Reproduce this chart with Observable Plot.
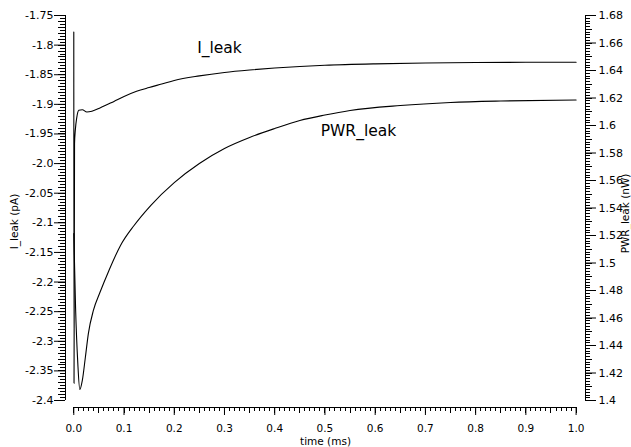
<!DOCTYPE html>
<html>
<head>
<meta charset="utf-8">
<script src="https://cdn.jsdelivr.net/npm/d3@7"></script>
<script src="https://cdn.jsdelivr.net/npm/@observablehq/plot@0.6"></script>
<style>
  html, body { margin: 0; padding: 0; background: #fff; }
  #chart { width: 631px; height: 447px; }
</style>
</head>
<body>
<div id="chart"></div>
<script>
// Leakage current (pA) after switching, sampled over time (ms)
const iTime = [0, 0.0005, 0.0015, 0.003, 0.006, 0.01, 0.017, 0.026, 0.036, 0.053, 0.08, 0.1, 0.125, 0.15, 0.175, 0.2, 0.25, 0.3, 0.35, 0.4, 0.45, 0.5, 0.6, 0.7, 0.8, 0.9, 1.0];
const iLeak = [-1.778, -2.371, -1.966, -1.944, -1.922, -1.910, -1.909, -1.913, -1.9117, -1.9058, -1.895, -1.8868, -1.878, -1.8716, -1.8657, -1.8597, -1.852, -1.8462, -1.842, -1.8386, -1.836, -1.834, -1.8316, -1.8302, -1.8294, -1.829, -1.8288];

// Leakage power (nW) over the same interval
const pTime = [0, 0.0035, 0.008, 0.012, 0.017, 0.023, 0.029, 0.039, 0.052, 0.07, 0.093, 0.12, 0.153, 0.2, 0.25, 0.3, 0.35, 0.4, 0.45, 0.5, 0.55, 0.65, 0.75, 0.85, 1.0];
const pwrLeak = [1.5215, 1.468, 1.427, 1.408, 1.4146, 1.4313, 1.4487, 1.4655, 1.4785, 1.4946, 1.5128, 1.5273, 1.5418, 1.5585, 1.5724, 1.5833, 1.5913, 1.5978, 1.6036, 1.6076, 1.6109, 1.6145, 1.6167, 1.6178, 1.6186];

// Tick labels
const timeTicks = [0.0, 0.1, 0.2, 0.3, 0.4, 0.5, 0.6, 0.7, 0.8, 0.9, 1.0];
const iTicks = [-2.4, -2.35, -2.3, -2.25, -2.2, -2.15, -2.1, -2.05, -2.0, -1.95, -1.9, -1.85, -1.8, -1.75];
const pTicks = [1.4, 1.42, 1.44, 1.46, 1.48, 1.5, 1.52, 1.54, 1.56, 1.58, 1.6, 1.62, 1.64, 1.66, 1.68];

const iLo = -2.4, iHi = -1.75;
const pLo = 1.4, pHi = 1.68;
// power is drawn on the current scale, then relabelled on the right axis
const toI = p => iLo + (p - pLo) / (pHi - pLo) * (iHi - iLo);
const toP = v => pLo + (v - iLo) / (iHi - iLo) * (pHi - pLo);

const fmtI = v => { const r = +v.toFixed(3); return Number.isInteger(r) ? r.toFixed(1) : String(r); };
const fmtP = v => String(+toP(v).toFixed(3));

const iSeries = iTime.map((t, k) => ({t, v: iLeak[k]}));
const pSeries = pTime.map((t, k) => ({t, v: toI(pwrLeak[k])}));

// frame: the axis lines sit a little outside the data range
const W = 631, H = 447;
const mL = 65, mR = 46, mT = 15, mB = 40;
const xMin = -0.0165, xMax = 1.0187;
const yBot = -2.4118, yTop = iHi;
const xPx = (xMax - xMin) / (W - mL - mR);   // data units per pixel
const yPx = (yTop - yBot) / (H - mT - mB);

// minor tick positions
const iMinor = d3.range(0, 131).map(k => iLo + k * 0.005);
const iMid = d3.range(0, 66).map(k => iLo + k * 0.01);
const pMinor = d3.range(0, 141).map(k => toI(pLo + k * 0.002));
const pMid = d3.range(0, 29).map(k => toI(pLo + k * 0.01));
const tMinor = d3.range(0, 101).map(k => k * 0.01);
const tMid = d3.range(0, 21).map(k => k * 0.05);

const crisp = {stroke: "#000", shapeRendering: "crispEdges"};
const leftTicks = (data, len) => Plot.ruleY(data, {y: d => d, x1: xMin - len * xPx, x2: xMin, ...crisp});
const rightTicks = (data, len) => Plot.ruleY(data, {y: d => d, x1: xMax, x2: xMax + len * xPx, ...crisp});
const bottomTicks = (data, len) => Plot.ruleX(data, {x: d => d, y1: yBot, y2: yBot - len * yPx, ...crisp});

const chart = Plot.plot({
  width: W,
  height: H,
  marginTop: mT,
  marginBottom: mB,
  marginLeft: mL,
  marginRight: mR,
  style: {fontFamily: "DejaVu Sans", fontSize: "10.5px", color: "#000", background: "#fff"},
  x: {domain: [xMin, xMax]},
  y: {domain: [yBot, yTop]},
  marks: [
    // axis lines
    Plot.ruleX([xMin], {y1: iLo, y2: iHi, ...crisp}),
    Plot.ruleX([xMax], {y1: iLo, y2: iHi, ...crisp}),
    Plot.ruleY([yBot], {x1: 0, x2: 1, ...crisp}),

    // left axis: current
    leftTicks(iMinor, 5),
    leftTicks(iMid, 7),
    Plot.axisY(iTicks, {anchor: "left", tickSize: 11, tickPadding: 1, tickFormat: fmtI, label: null, fontSize: 11, stroke: "#000", fill: "#000"}),

    // right axis: power
    rightTicks(pMinor, 4.5),
    rightTicks(pMid, 6.5),
    Plot.axisY(pTicks.map(toI), {anchor: "right", tickSize: 10, tickPadding: 3, tickFormat: fmtP, label: null, fontSize: 11, stroke: "#000", fill: "#000"}),

    // bottom axis: time
    bottomTicks(tMinor, 3.5),
    bottomTicks(tMid, 6),
    Plot.axisX(timeTicks, {anchor: "bottom", tickSize: 8, tickPadding: 9, tickFormat: v => v.toFixed(1), label: null, stroke: "#000", fill: "#000"}),

    // axis titles
    Plot.text(["time (ms)"], {frameAnchor: "bottom", lineAnchor: "middle", textAnchor: "middle", dy: 34, fontSize: 10.5, fill: "#000"}),
    Plot.text(["I_leak (pA)"], {frameAnchor: "left", rotate: -90, textAnchor: "middle", lineAnchor: "middle", dx: -51, dy: 10, fontSize: 10.5, fill: "#000"}),
    Plot.text(["PWR_leak (nW)"], {frameAnchor: "right", rotate: -90, textAnchor: "middle", lineAnchor: "middle", dx: 40, dy: 2, fontSize: 10.5, fill: "#000"}),

    // curves
    Plot.line(iSeries, {x: "t", y: "v", curve: "monotone-x", stroke: "#000", strokeWidth: 1.1}),
    Plot.line(pSeries, {x: "t", y: "v", curve: "monotone-x", stroke: "#000", strokeWidth: 1.1}),

    // curve names
    Plot.text(["I_leak"], {x: 0.29, y: -1.8045, fontSize: 15.5, fill: "#000"}),
    Plot.text(["PWR_leak"], {x: 0.5667, y: -1.9458, fontSize: 15.5, fill: "#000"})
  ]
});

document.getElementById("chart").appendChild(chart);
</script>
</body>
</html>
